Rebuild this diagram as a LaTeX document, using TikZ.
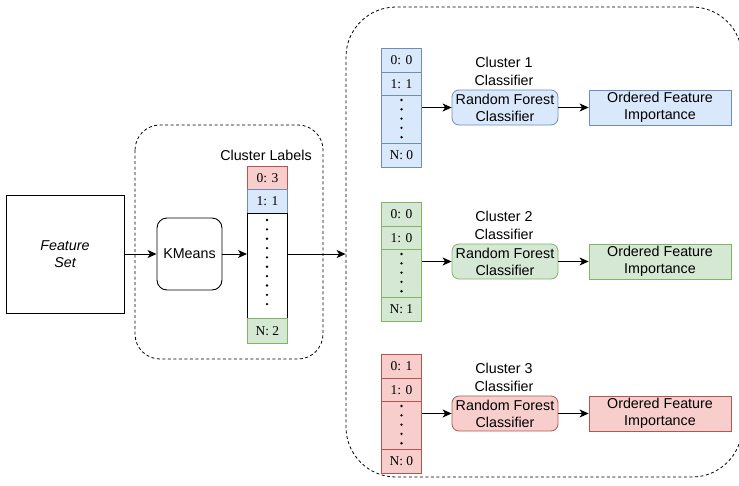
\documentclass[tikz,border=0pt]{standalone}
\usepackage{fontspec}
\setmainfont{Liberation Sans}
\newfontfamily\cellfont{Liberation Serif}
\usetikzlibrary{arrows.meta}

\definecolor{bluefill}{HTML}{DAE8FC}
\definecolor{bluedraw}{HTML}{6C8EBF}
\definecolor{greenfill}{HTML}{D5E8D4}
\definecolor{greendraw}{HTML}{82B366}
\definecolor{redfill}{HTML}{F8CECC}
\definecolor{reddraw}{HTML}{B85450}

\tikzset{
  every node/.style={font=\fontsize{14.3}{17}\selectfont, align=center, inner sep=0pt},
  flow/.style={draw=black, line width=0.9pt, -{Stealth[length=9pt,width=8pt,inset=2.5pt]}},
  group/.style={draw=black, line width=0.8pt, dash pattern=on 3pt off 2.5pt, rounded corners=#1},
  cell/.style={draw=#1draw, fill=#1fill, line width=0.8pt, anchor=north west,
    minimum width=40pt, font=\cellfont\fontsize{13.5}{16}\selectfont},
  dotcell/.style={draw=#1, line width=0.8pt, anchor=north west, minimum width=40pt},
  rfbox/.style={draw=#1draw, fill=#1fill, line width=0.8pt, rounded corners=7pt,
    minimum width=106pt, minimum height=35pt},
  ofibox/.style={draw=#1draw, fill=#1fill, line width=0.8pt,
    minimum width=142pt, minimum height=35pt},
  caption/.style={anchor=south, font=\fontsize{14.3}{18}\selectfont},
}

% vertical run of dots inside a column cell
\newcommand{\dotrun}[4]{% x, first y, count, gap
  \foreach \k in {1,...,#3}{\fill ({#1},{#2+(\k-1)*#4}) circle (1.3pt);}}

\begin{document}
\begin{tikzpicture}[x=1pt,y=-1pt]
\useasboundingbox (0,0) rectangle (739,485);
\clip (0,0) rectangle (739,485);

% groups
\draw[group=25pt] (135,125) rectangle (323,359);
\node[group=50pt, minimum width=396pt, minimum height=470pt] (outer) at (544,242) {};

% feature set and k-means
\node[draw, line width=0.9pt, minimum width=118pt, minimum height=118pt,
  font=\itshape\fontsize{14.3}{17}\selectfont] (fs) at (65,254) {Feature\\Set};
\node[draw, line width=0.9pt, rounded corners=10pt, minimum width=65pt,
  minimum height=72pt] (km) at (189.5,254) {KMeans};

% cluster label column
\node (cltitle) at (266,155) {Cluster Labels};
\node[cell=red, minimum height=23pt] (l0) at (247,166) {0: 3};
\node[cell=blue, minimum height=24pt] (l1) at (247,189) {1: 1};
\node[dotcell=black, fill=white, minimum height=105pt] (lm) at (247,213) {};
\node[cell=green, minimum height=25pt] (ln) at (247,318) {N: 2};
\dotrun{267}{220}{10}{9.35}

\draw[flow] (fs.east) -- (km.west);
\draw[flow] (km.east) -- (km.east -| lm.west);
\draw[flow] (lm.east |- km.east) -- (outer.west |- km.east);

% one row per cluster: #1 colour, #2 top y, #3 cluster number, #4 #5 #6 values, #7 name
\newcommand{\clusterrow}[7]{%
  \node[cell=#1, minimum height=24pt] (#7a) at (381,#2) {0: #4};
  \node[cell=#1, minimum height=23pt] (#7b) at (381,#2+24) {1: #5};
  \node[cell=#1, minimum height=48pt] (#7m) at (381,#2+47) {};
  \node[cell=#1, minimum height=24pt] (#7n) at (381,#2+95) {N: #6};
  \dotrun{401.5}{#2+52}{5}{9.3}
  \node[rfbox=#1] (#7rf) at (505,#2+59.5) {Random Forest\\Classifier};
  \node[ofibox=#1] (#7of) at (660,#2+59.5) {Ordered Feature\\Importance};
  \node[caption] (#7t) at (504,#2+37.5) {Cluster #3\\Classifier};
  \draw[flow] (#7m.east |- #7rf.west) -- (#7rf.west);
  \draw[flow] (#7rf.east) -- (#7of.west);
}

\clusterrow{blue}{48}{1}{0}{1}{0}{one}
\clusterrow{green}{202}{2}{0}{0}{1}{two}
\clusterrow{red}{354}{3}{1}{0}{0}{three}

\end{tikzpicture}
\end{document}
